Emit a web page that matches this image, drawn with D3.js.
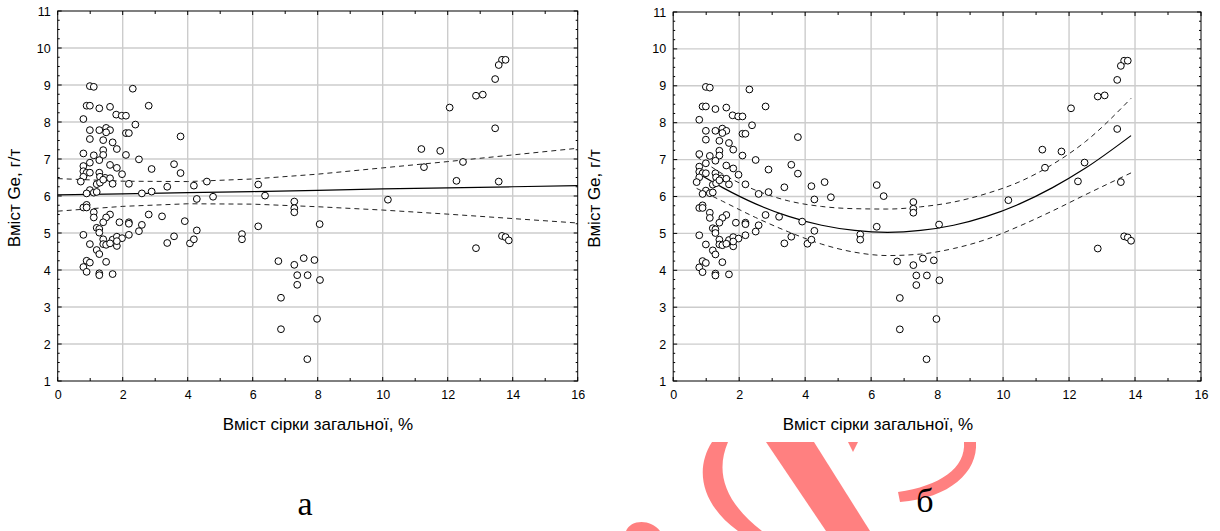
<!DOCTYPE html>
<html>
<head>
<meta charset="utf-8">
<script src="https://cdn.jsdelivr.net/npm/d3@7"></script>
<style>
  body { margin: 0; background: #fff; }
  svg { display: block; }
</style>
</head>
<body>
<svg id="chart" width="1220" height="531"></svg>
<script>
// Data
const sulfur = [
  0.99, 1.11, 2.31, 0.89, 0.99, 1.28, 1.61, 2.80, 0.79, 1.80, 1.97, 2.10, 2.39,
  0.99, 1.28, 1.49, 1.61, 2.10, 2.19, 3.78, 0.99, 1.40, 1.49, 1.69, 1.82, 1.40,
  0.79, 1.11, 1.40, 2.10, 1.28, 0.99, 2.50, 0.79, 1.61, 3.58, 2.89, 1.82, 0.79,
  0.89, 0.99, 1.28, 1.98, 3.78, 0.79, 1.30, 1.46, 1.61, 0.71, 1.20, 1.30, 1.69,
  2.19, 1.40, 3.37, 4.19, 4.59, 0.99, 0.89, 1.11, 1.20, 2.59, 2.89, 4.28, 4.78,
  0.79, 0.89, 0.89, 1.11, 1.11, 1.61, 1.49, 1.40, 1.90, 2.19, 2.19, 2.80, 3.21,
  3.91, 1.20, 1.28, 1.28, 2.59, 2.50, 0.79, 1.40, 1.69, 1.82, 1.98, 2.19, 0.99,
  1.40, 1.49, 1.61, 1.82, 1.82, 3.58, 3.37, 4.07, 4.19, 4.28, 5.67, 5.67, 1.20,
  1.28, 0.89, 0.99, 1.49, 0.79, 0.89, 1.28, 1.28, 1.69,
  6.17, 6.38, 7.28, 7.28, 7.28, 6.17, 8.06, 10.16, 6.79, 7.28, 7.57, 7.90, 7.37,
  7.69, 8.07, 7.37, 6.87, 7.98, 6.87, 7.68,
  13.67, 13.78, 13.57, 13.46, 12.87, 13.08, 12.06, 13.46, 11.19, 11.77, 11.27,
  12.47, 12.27, 13.57, 13.67, 13.78, 13.88, 12.87
];
const germanium = [
  8.97, 8.95, 8.90, 8.44, 8.44, 8.37, 8.41, 8.44, 8.08, 8.20, 8.17, 8.17, 7.93,
  7.78, 7.78, 7.84, 7.78, 7.70, 7.70, 7.61, 7.54, 7.51, 7.72, 7.45, 7.27, 7.24,
  7.15, 7.10, 7.11, 7.11, 6.97, 6.90, 6.99, 6.81, 6.84, 6.86, 6.73, 6.76, 6.67,
  6.63, 6.63, 6.63, 6.59, 6.62, 6.52, 6.52, 6.49, 6.48, 6.39, 6.32, 6.36, 6.33,
  6.33, 6.44, 6.25, 6.28, 6.39, 6.16, 6.07, 6.09, 6.11, 6.07, 6.12, 5.92, 5.98,
  5.69, 5.76, 5.69, 5.56, 5.42, 5.50, 5.42, 5.29, 5.29, 5.29, 5.25, 5.50, 5.45,
  5.32, 5.14, 5.11, 5.01, 5.22, 5.05, 4.95, 4.83, 4.82, 4.90, 4.86, 4.95, 4.70,
  4.70, 4.68, 4.72, 4.65, 4.78, 4.91, 4.73, 4.72, 4.83, 5.07, 4.97, 4.83, 4.54,
  4.43, 4.25, 4.20, 4.22, 4.08, 3.95, 3.91, 3.86, 3.89,
  6.31, 6.01, 5.85, 5.67, 5.56, 5.18, 5.24, 5.90, 4.24, 4.14, 4.32, 4.27, 3.86,
  3.86, 3.73, 3.60, 3.25, 2.68, 2.40, 1.59,
  9.68, 9.68, 9.54, 9.16, 8.71, 8.74, 8.39, 7.83, 7.27, 7.22, 6.78,
  6.92, 6.41, 6.39, 4.92, 4.89, 4.80, 4.59
];

const xTicks = [0, 2, 4, 6, 8, 10, 12, 14, 16];
const yTicks = [1, 2, 3, 4, 5, 6, 7, 8, 9, 10, 11];

// linear fit (panel а)
const linX = [0, 2, 4, 6, 8, 10, 12, 14, 16];
const linFit = [6.03, 6.06, 6.09, 6.12, 6.15, 6.19, 6.22, 6.25, 6.28];
const linUpper = [6.47, 6.40, 6.39, 6.46, 6.59, 6.76, 6.93, 7.11, 7.29];
const linLower = [5.59, 5.72, 5.79, 5.78, 5.71, 5.62, 5.51, 5.39, 5.27];

// quadratic fit (panel б)
const quadX = [0.71, 1.5, 2.5, 3.5, 4.5, 5.5, 6.5, 7.5, 8.5, 9.5, 10.5, 11.5, 12.5, 13.88];
const quadFit = [6.65, 6.24, 5.80, 5.46, 5.22, 5.08, 5.03, 5.08, 5.22, 5.46, 5.80, 6.24, 6.77, 7.65];
const quadUpper = [7.08, 6.61, 6.17, 5.88, 5.73, 5.67, 5.66, 5.72, 5.85, 6.08, 6.40, 6.87, 7.49, 8.66];
const quadLower = [6.22, 5.87, 5.43, 5.04, 4.71, 4.49, 4.40, 4.44, 4.59, 4.84, 5.20, 5.61, 6.05, 6.64];

const xTitle = 'Вміст сірки загальної, %';
const yTitle = 'Вміст Ge, г/т';
const panelLabels = ['а', 'б'];

const font = '"Liberation Sans", Arial, sans-serif';
const svg = d3.select('#chart');

// pink watermark behind the charts (only its lower part shows)
const wm = svg.append('g').attr('class', 'watermark').attr('fill', '#ff8080').attr('stroke', 'none');
wm.append('path').attr('d', 'M712,442 L728,442 C716,470 722,500 762,531 L738,531 C702,505 694,470 712,442 Z');
wm.append('path').attr('d', 'M766,442 L814,442 L870,531 L826,531 Z');
wm.append('path').attr('d', 'M964,442 L976,442 C978,472 950,498 900,502 L898,492 C940,486 966,468 964,442 Z');
wm.append('path').attr('d', 'M848,442 L858,442 L853,452 Z');
wm.append('path').attr('d', 'M626,531 C630,520 650,518 660,531 Z');

const panels = [
  { left: 57.7, right: 577.7, top: 11, bottom: 381, titleX: 20, xTitleX: 318,
    label: panelLabels[0], labelX: 305, labelY: 515,
    fits: [[linX, linFit], [linX, linUpper], [linX, linLower]], curve: d3.curveLinear },
  { left: 673.2, right: 1201, top: 12, bottom: 381, titleX: 600, xTitleX: 878,
    label: panelLabels[1], labelX: 925, labelY: 512,
    fits: [[quadX, quadFit], [quadX, quadUpper], [quadX, quadLower]], curve: d3.curveMonotoneX }
];

panels.forEach(p => {
  const x = d3.scaleLinear().domain([0, 16]).range([p.left, p.right]);
  const y = d3.scaleLinear().domain([1, 11]).range([p.bottom, p.top]);
  const g = svg.append('g');

  // grid
  g.append('g').selectAll('line').data(xTicks.slice(1, -1)).join('line')
    .attr('x1', d => x(d)).attr('x2', d => x(d)).attr('y1', p.top).attr('y2', p.bottom)
    .attr('stroke', '#cccccc').attr('stroke-width', 1.4);
  g.append('g').selectAll('line').data(yTicks.slice(1, -1)).join('line')
    .attr('y1', d => y(d)).attr('y2', d => y(d)).attr('x1', p.left).attr('x2', p.right)
    .attr('stroke', '#cccccc').attr('stroke-width', 1.4);

  // axes labels, ticks drawn inward below
  const minorX = d3.range(0, 17, 1);
  const minorY = d3.range(1, 11.01, 0.25);
  g.append('g').attr('transform', `translate(0,${p.bottom})`)
    .call(d3.axisBottom(x).tickValues(xTicks).tickSize(0).tickPadding(9))
    .call(a => a.select('.domain').remove());
  g.append('g').attr('transform', `translate(${p.left},0)`)
    .call(d3.axisLeft(y).tickValues(yTicks).tickSize(0).tickPadding(7))
    .call(a => a.select('.domain').remove());
  g.selectAll('.tick text').style('font-family', font).style('font-size', '12.5px').attr('fill', '#000');

  const ticks = g.append('g').attr('stroke', '#000').attr('stroke-width', 1);
  ticks.selectAll('.bx').data(minorX).join('line').attr('class', 'bx')
    .attr('x1', d => x(d)).attr('x2', d => x(d))
    .attr('y1', p.bottom).attr('y2', d => p.bottom - (d % 2 === 0 ? 4 : 3));
  ticks.selectAll('.tx').data(minorX).join('line').attr('class', 'tx')
    .attr('x1', d => x(d)).attr('x2', d => x(d))
    .attr('y1', p.top).attr('y2', d => p.top + (d % 2 === 0 ? 4 : 3));
  ticks.selectAll('.ly').data(minorY).join('line').attr('class', 'ly')
    .attr('y1', d => y(d)).attr('y2', d => y(d))
    .attr('x1', p.left).attr('x2', d => p.left + (d % 1 === 0 ? 4 : 2));
  ticks.selectAll('.ry').data(minorY).join('line').attr('class', 'ry')
    .attr('y1', d => y(d)).attr('y2', d => y(d))
    .attr('x1', p.right).attr('x2', d => p.right - (d % 1 === 0 ? 4 : 2));

  g.append('rect').attr('x', p.left).attr('y', p.top)
    .attr('width', p.right - p.left).attr('height', p.bottom - p.top)
    .attr('fill', 'none').attr('stroke', '#000').attr('stroke-width', 1);

  // fit and confidence band
  p.fits.forEach(([xs, ys], i) => {
    const line = d3.line().x(d => x(d[0])).y(d => y(d[1])).curve(p.curve);
    g.append('path').datum(xs.map((v, k) => [v, ys[k]]))
      .attr('d', line).attr('fill', 'none')
      .attr('stroke', i === 0 ? '#000' : '#222')
      .attr('stroke-width', i === 0 ? 1.2 : 1)
      .attr('stroke-dasharray', i === 0 ? null : '5,4');
  });

  // points
  g.append('g').selectAll('circle').data(sulfur.map((v, i) => [v, germanium[i]])).join('circle')
    .attr('cx', d => x(d[0])).attr('cy', d => y(d[1])).attr('r', 3.4)
    .attr('fill', '#fff').attr('stroke', '#000').attr('stroke-width', 1);

  // titles
  g.append('text').attr('x', p.xTitleX).attr('y', 430).attr('text-anchor', 'middle')
    .style('font-family', font).style('font-size', '17px').text(xTitle);
  g.append('text').attr('transform', `translate(${p.titleX},${(p.top + p.bottom) / 2 + 2}) rotate(-90)`)
    .attr('text-anchor', 'middle').style('font-family', font).style('font-size', '17px').text(yTitle);
  svg.append('text').attr('x', p.labelX).attr('y', p.labelY).attr('text-anchor', 'middle')
    .style('font-family', '"Liberation Serif", "Times New Roman", serif').style('font-size', '34px')
    .text(p.label);
});
</script>
</body>
</html>
